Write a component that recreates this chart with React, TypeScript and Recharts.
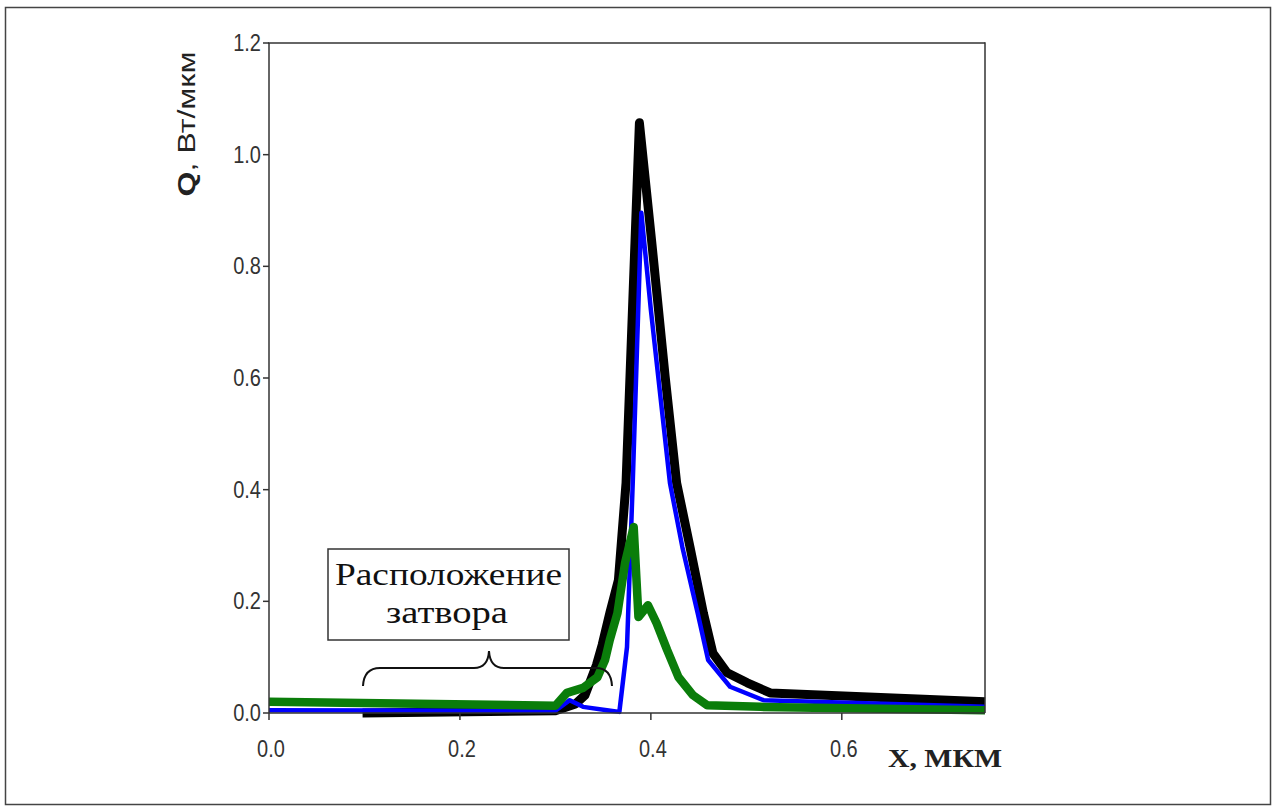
import React from 'react';
import { LineChart, Line, XAxis, YAxis, Label } from 'recharts';

// X positions (µm) and Q values (W/µm)
const blackX = [0.098, 0.300, 0.321, 0.331, 0.337, 0.343, 0.349, 0.357, 0.366, 0.374, 0.388, 0.401, 0.415, 0.427, 0.441, 0.455, 0.465, 0.480, 0.501, 0.525, 0.750];
const blackQ = [0.000, 0.004, 0.016, 0.032, 0.059, 0.086, 0.122, 0.179, 0.238, 0.412, 1.057, 0.842, 0.602, 0.412, 0.297, 0.179, 0.107, 0.072, 0.054, 0.036, 0.020];

const blueX = [0.000, 0.300, 0.315, 0.329, 0.354, 0.367, 0.375, 0.381, 0.390, 0.400, 0.420, 0.433, 0.449, 0.460, 0.483, 0.518, 0.750];
const blueQ = [0.005, 0.004, 0.023, 0.011, 0.005, 0.002, 0.118, 0.412, 0.896, 0.722, 0.412, 0.297, 0.179, 0.095, 0.047, 0.023, 0.011];

const greenX = [0.000, 0.300, 0.312, 0.329, 0.344, 0.352, 0.357, 0.365, 0.373, 0.382, 0.387, 0.397, 0.406, 0.417, 0.429, 0.444, 0.459, 0.515, 0.750];
const greenQ = [0.020, 0.013, 0.036, 0.045, 0.064, 0.095, 0.131, 0.179, 0.269, 0.333, 0.172, 0.193, 0.161, 0.113, 0.064, 0.032, 0.014, 0.011, 0.005];

const xTicks = [0, 0.2, 0.4, 0.6];
const yTicks = [0, 0.2, 0.4, 0.6, 0.8, 1.0, 1.2];

const yLabelBold = 'Q';
const yLabelRest = ', Вт/мкм';
const xLabel = 'X,  МКМ';
const noteLine1 = 'Расположение';
const noteLine2 = 'затвора';

const toPoints = (xs: number[], ys: number[]) => xs.map((x, i) => ({ x, q: ys[i] }));
const blackData = toPoints(blackX, blackQ);
const blueData = toPoints(blueX, blueQ);
const greenData = toPoints(greenX, greenQ);

const tickFont = '"Liberation Sans Narrow", "Liberation Sans", Arial, sans-serif';

const YTick = (props: any) => {
  const { x, y, payload } = props;
  return (
    <text
      transform={`translate(${x},${y}) scale(1,1.2)`}
      x={0}
      y={0}
      textAnchor="end"
      dominantBaseline="central"
      fontFamily={tickFont}
      fontSize={20}
      fill="#333"
    >
      {Number(payload.value).toFixed(1)}
    </text>
  );
};

const XTick = (props: any) => {
  const { x, payload } = props;
  return (
    <text
      transform={`translate(${x + 2},757) scale(1,1.2)`}
      x={0}
      y={0}
      textAnchor="middle"
      fontFamily={tickFont}
      fontSize={20}
      fill="#333"
    >
      {Number(payload.value).toFixed(1)}
    </text>
  );
};

export default function App() {
  return (
    <div style={{ position: 'absolute', left: 0, top: 0, width: 1276, height: 809, background: '#fff' }}>
      <LineChart
        width={1276}
        height={809}
        margin={{ top: 43, right: 291, bottom: 36, left: 209 }}
      >
        <XAxis
          type="number"
          dataKey="x"
          domain={[0, 0.75]}
          ticks={xTicks}
          tick={<XTick />}
          tickSize={7}
          height={60}
          allowDuplicatedCategory={false}
          stroke="#333"
          strokeWidth={1.5}
        >
          <Label
            content={() => (
              <text
                x={888}
                y={767}
                textLength={114}
                lengthAdjust="spacingAndGlyphs"
                fontFamily='"Liberation Serif", "Times New Roman", serif'
                fontWeight={700}
                fontSize={25}
                fill="#222"
              >
                {xLabel}
              </text>
            )}
          />
        </XAxis>
        <YAxis
          type="number"
          domain={[0, 1.2]}
          ticks={yTicks}
          tick={<YTick />}
          tickSize={6}
          width={60}
          stroke="#333"
          strokeWidth={1.5}
        >
          <Label
            content={() => (
              <text
                transform="translate(195,124) rotate(-90)"
                x={0}
                y={0}
                textAnchor="middle"
                textLength={145}
                lengthAdjust="spacingAndGlyphs"
                fontFamily='"Liberation Sans", Arial, sans-serif'
                fontSize={23}
                fill="#222"
              >
                <tspan fontWeight={700}>{yLabelBold}</tspan>
                <tspan>{yLabelRest}</tspan>
              </text>
            )}
          />
        </YAxis>
        <Line
          data={blackData}
          dataKey="q"
          type="linear"
          stroke="#000000"
          strokeWidth={9}
          strokeLinejoin="round"
          dot={false}
          activeDot={false}
          isAnimationActive={false}
        />
        <Line
          data={blueData}
          dataKey="q"
          type="linear"
          stroke="#0000ff"
          strokeWidth={4.5}
          strokeLinejoin="round"
          dot={false}
          activeDot={false}
          isAnimationActive={false}
        />
        <Line
          data={greenData}
          dataKey="q"
          type="linear"
          stroke="#0a7d0a"
          strokeWidth={8.5}
          strokeLinejoin="round"
          dot={false}
          activeDot={false}
          isAnimationActive={false}
        />
      </LineChart>
      <svg
        width={1276}
        height={809}
        style={{ position: 'absolute', left: 0, top: 0, pointerEvents: 'none' }}
      >
        <rect x={5.5} y={7.5} width={1265} height={797} fill="none" stroke="#444" strokeWidth={1.5} />
        <line x1={268} y1={43} x2={985} y2={43} stroke="#333" strokeWidth={1.5} />
        <line x1={985} y1={42.3} x2={985} y2={713} stroke="#333" strokeWidth={1.5} />
        <rect x={328} y={549} width={241} height={91} fill="#fff" stroke="#333" strokeWidth={1.5} />
        <text
          x={335}
          y={585}
          textLength={227}
          lengthAdjust="spacingAndGlyphs"
          fontFamily='"Liberation Serif", "Times New Roman", serif'
          fontSize={31}
          fill="#111"
        >
          {noteLine1}
        </text>
        <text
          x={386}
          y={623}
          textLength={122}
          lengthAdjust="spacingAndGlyphs"
          fontFamily='"Liberation Serif", "Times New Roman", serif'
          fontSize={31}
          fill="#111"
        >
          {noteLine2}
        </text>
        <path
          d="M 363 686 Q 364 668 380 668 L 474 668 Q 488 668 489 651 Q 490 668 504 668 L 596 668 Q 611 668 612 686"
          fill="none"
          stroke="#111"
          strokeWidth={2}
        />
      </svg>
    </div>
  );
}
